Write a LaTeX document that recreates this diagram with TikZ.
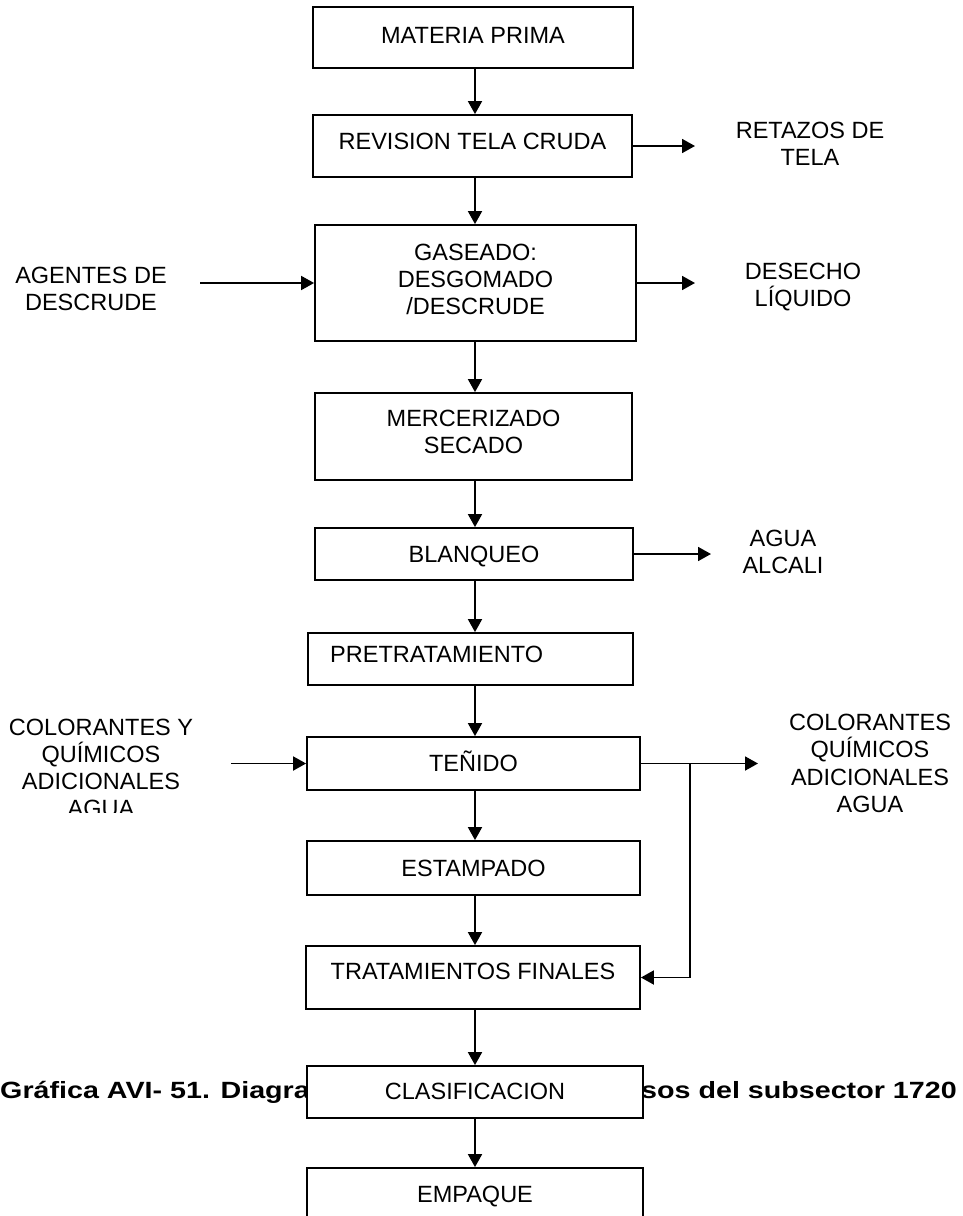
\documentclass[tikz,border=0pt]{standalone}
\usepackage{fontspec}
\setmainfont{Liberation Sans}
\usetikzlibrary{arrows.meta}
\begin{document}
\begin{tikzpicture}[x=1pt,y=-1pt,
  box/.style={draw, line width=1.8pt, fill=white, inner sep=0pt},
  lbl/.style={anchor=base, inner sep=0pt, font=\fontsize{23.5}{27}\selectfont},
  lblw/.style={anchor=base west, inner sep=0pt, font=\fontsize{23.5}{27}\selectfont},
  captxt/.style={anchor=base west, inner sep=0pt, font=\fontsize{23.5}{27}\selectfont\bfseries},
  flow/.style={line width=1.8pt, -{Triangle[length=13pt,width=14pt]}},
  plain/.style={line width=1.8pt}]
\useasboundingbox (0,0) rectangle (963,1216);
\fill[white] (0,0) rectangle (963,1216);
\coordinate (axis) at (475,0);

% caption (partly hidden behind the CLASIFICACION box)
\node[captxt] (c1) at (0,1098) {\scalebox{1.22}[1]{Gráfica AVI- 51. Diagra}};
\node[captxt] (c2) at (641,1098) {\scalebox{1.22}[1]{sos del subsector 1720}};

% boxes
\node[box, minimum width=320pt, minimum height=61pt] (mp)  at (473,37.5) {};
\node[box, minimum width=319pt, minimum height=62pt] (rev) at (472.5,146) {};
\node[box, minimum width=321pt, minimum height=116pt] (gas) at (475.5,283) {};
\node[box, minimum width=317pt, minimum height=87pt] (mer) at (473.5,436.5) {};
\node[box, minimum width=318pt, minimum height=52pt] (bla) at (474,554) {};
\node[box, minimum width=325pt, minimum height=52pt] (pre) at (470.5,659) {};
\node[box, minimum width=333pt, minimum height=53pt] (ten) at (473.5,763.5) {};
\node[box, minimum width=333pt, minimum height=54pt] (est) at (473.5,868) {};
\node[box, minimum width=334pt, minimum height=63pt] (tra) at (473,977.5) {};
\node[box, minimum width=336pt, minimum height=52pt] (cla) at (475,1092) {};
\node[box, minimum width=336pt, minimum height=72pt] (emp) at (475,1204) {};

% box texts
\node[lbl] (tmp) at (473,43) {MATERIA PRIMA};
\node[lbl] (trev) at (472.5,149) {REVISION TELA CRUDA};
\node[lbl] (tgas1) at (475.5,260) {GASEADO:};
\node[lbl] (tgas2) at (475.5,287) {DESGOMADO};
\node[lbl] (tgas3) at (475.5,314) {/DESCRUDE};
\node[lbl] (tmer1) at (473.5,426) {MERCERIZADO};
\node[lbl] (tmer2) at (473.5,453) {SECADO};
\node[lbl] (tbla) at (474,562) {BLANQUEO};
\node[lblw] (tpre) at (330,662) {PRETRATAMIENTO};
\node[lbl] (tten) at (473.5,771) {TEÑIDO};
\node[lbl] (test) at (473.5,876) {ESTAMPADO};
\node[lbl] (ttra) at (473,979) {TRATAMIENTOS FINALES};
\node[lbl] (tcla) at (475,1099) {CLASIFICACION};
\node[lbl] (temp) at (475,1202) {EMPAQUE};

% side texts
\node[lbl] (ret1) at (810,138) {RETAZOS DE};
\node[lbl] (ret2) at (810,165) {TELA};
\node[lbl] (des1) at (803,279) {DESECHO};
\node[lbl] (des2) at (803,306) {LÍQUIDO};
\node[lbl] (age1) at (91,283) {AGENTES DE};
\node[lbl] (age2) at (91,310) {DESCRUDE};
\node[lbl] (agu1) at (783,546) {AGUA};
\node[lbl] (agu2) at (783,573) {ALCALI};
\begin{scope}
  \clip (0,690) rectangle (300,812);
  \node[lbl] (cl1) at (101,735) {COLORANTES Y};
  \node[lbl] (cl2) at (101,762) {QUÍMICOS};
  \node[lbl] (cl3) at (101,789) {ADICIONALES};
  \node[lbl] (cl4) at (101,816) {AGUA};
\end{scope}
\node[lbl] (cr1) at (870,730) {COLORANTES};
\node[lbl] (cr2) at (870,757) {QUÍMICOS};
\node[lbl] (cr3) at (870,785) {ADICIONALES};
\node[lbl] (cr4) at (870,812) {AGUA};

% main flow
\draw[flow] (mp.south -| axis) -- (rev.north -| axis);
\draw[flow] (rev.south -| axis) -- (gas.north -| axis);
\draw[flow] (gas.south -| axis) -- (mer.north -| axis);
\draw[flow] (mer.south -| axis) -- (bla.north -| axis);
\draw[flow] (bla.south -| axis) -- (pre.north -| axis);
\draw[flow] (pre.south -| axis) -- (ten.north -| axis);
\draw[flow] (ten.south -| axis) -- (est.north -| axis);
\draw[flow] (est.south -| axis) -- (tra.north -| axis);
\draw[flow] (tra.south -| axis) -- (cla.north -| axis);
\draw[flow] (cla.south -| axis) -- (emp.north -| axis);

% side arrows
\coordinate (retend) at (695,146);
\draw[flow] (rev.east) -- (retend);
\coordinate (desend) at (695,283);
\draw[flow] (gas.east) -- (desend);
\coordinate (agestart) at (200,283);
\draw[flow] (agestart) -- (gas.west);
\coordinate (aguend) at (711,554);
\draw[flow] (bla.east) -- (aguend);
\coordinate (clstart) at (231,763.5);
\draw[flow] (clstart) -- (ten.west);
\coordinate (crend) at (758,763.5);
\draw[flow] (ten.east) -- (crend);
\coordinate (branch) at (690,763.5);
\draw[flow] (branch) |- (tra.east);
\end{tikzpicture}
\end{document}
